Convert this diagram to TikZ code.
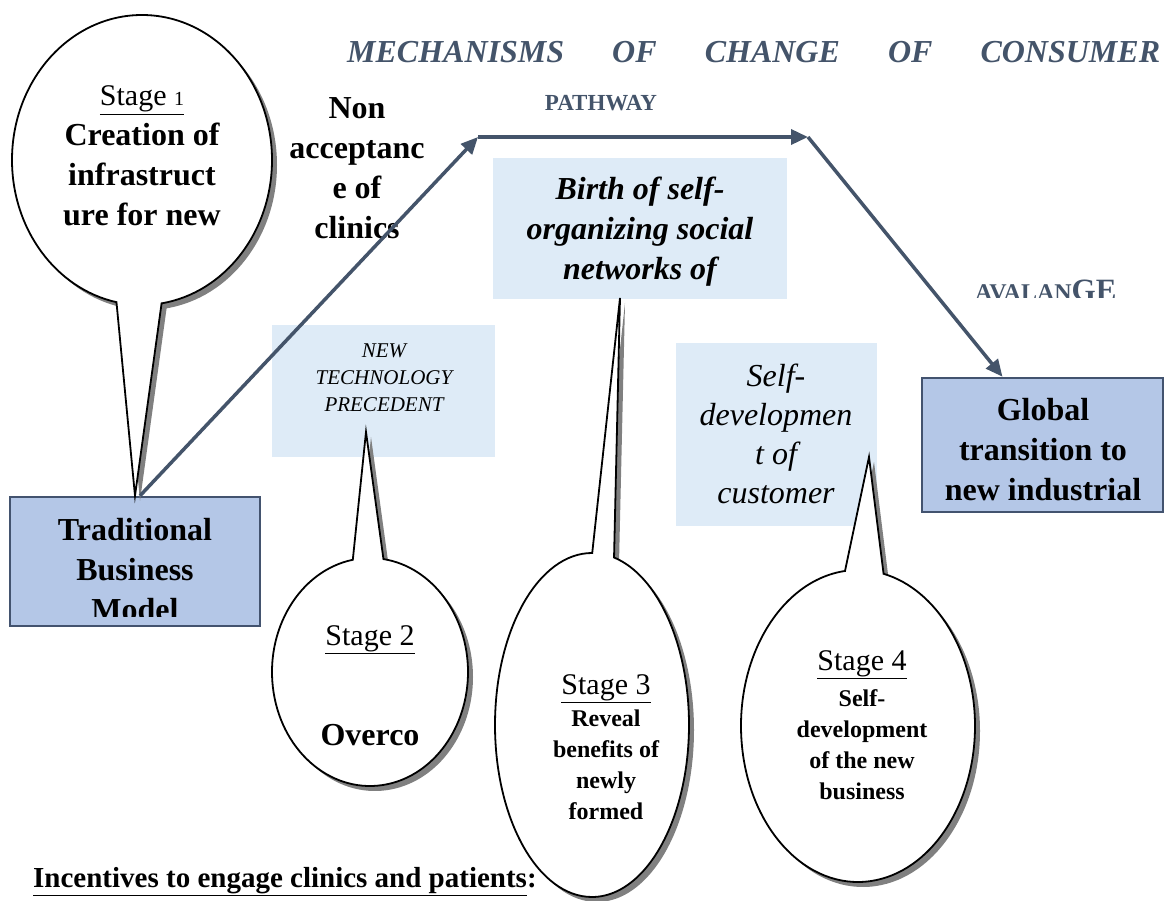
\documentclass[tikz,border=0pt]{standalone}
\usepackage{fontspec}
\setmainfont{Liberation Serif}
\usepackage{tikz}
\usetikzlibrary{shapes,shapes.callouts,arrows.meta,shadows}

\definecolor{slate}{HTML}{44546A}
\definecolor{boxblue}{HTML}{B4C7E7}
\definecolor{paleblue}{HTML}{DEEBF7}
\definecolor{boxedge}{HTML}{43536F}
\newcommand{\fs}[2]{\fontsize{#1}{#2}\selectfont}

\begin{document}
\begin{tikzpicture}[x=1pt,y=-1pt,>={Triangle[length=17pt,width=15pt]}]
	\useasboundingbox (0,0) rectangle (1165,901);
	\def \titlerow{63}
	\def \pathrow{137}
	\def \footrow{887}

	\tikzstyle{b-node}=[rectangle,draw=boxedge,line width=2.5pt,fill=boxblue,inner sep=0pt]
	\tikzstyle{p-node}=[rectangle,fill=paleblue,inner sep=0pt]
	\tikzstyle{s-node}=[ellipse callout,draw=black,line width=1.8pt,fill=white,inner sep=0pt,
		drop shadow={shadow xshift=5pt,shadow yshift=-5pt,fill=black!50,opacity=1}]
	% multi-line texts sit on the baseline of their last line
	\tikzstyle{bigtxt}=[inner sep=0pt,align=center,anchor=base,font=\fs{32}{40}\bfseries]
	\tikzstyle{stagetxt}=[inner sep=0pt,align=center,anchor=base,font=\fs{24}{31}\bfseries]
	\tikzstyle{stagehead}=[inner sep=0pt,anchor=base,font=\fs{30}{40}]
	\tikzstyle{pathway}=[->,draw=slate,line width=3.5pt]

	% title
	\node[inner sep=0pt,anchor=base west,text=slate,font=\fs{32}{40}\bfseries\itshape] (title) at (347,\titlerow)
		{\makebox[813pt]{MECHANISMS\hfill OF\hfill CHANGE\hfill OF\hfill CONSUMER}};
	\node[inner sep=0pt,anchor=base,text=slate,font=\fs{23}{28}\bfseries] (pathway) at (601,111) {PATHWAY};

	% boxes
	\node[b-node,minimum width=250pt,minimum height=129pt] (trad) at (135,561.5) {};
	\node[b-node,minimum width=241pt,minimum height=134pt] (glob) at (1042.5,445) {};
	\node[p-node,minimum width=294pt,minimum height=141pt] (birth) at (640,228.5) {};
	\node[p-node,minimum width=223pt,minimum height=132pt] (tech) at (383.5,391) {};
	\node[p-node,minimum width=201pt,minimum height=183pt] (selfdev) at (776.5,434.5) {};

	% pointer ends of the stages
	\coordinate (tip2) at (366,432);
	\coordinate (tip3) at (620,298);
	\coordinate (tip4) at (869,457);

	% stages
	\node[s-node,minimum width=260pt,minimum height=290pt,callout pointer arc=20,
		callout absolute pointer={(trad.north)}] (s1) at (142,160) {};
	\node[s-node,minimum width=196pt,minimum height=228pt,callout pointer arc=18,
		callout absolute pointer={(tip2)}] (s2) at (370,672) {};
	\node[s-node,minimum width=194pt,minimum height=344pt,callout pointer arc=13,
		callout absolute pointer={(tip3)}] (s3) at (592,725) {};
	\node[s-node,minimum width=234pt,minimum height=312pt,callout pointer arc=19,
		callout absolute pointer={(tip4)}] (s4) at (858,726) {};

	% texts
	\node[bigtxt] (s1-txt) at (142,226) {{\fs{30}{40}\mdseries\underline{Stage {\fs{20}{40}1}}}\\Creation of\\infrastruct\\ure for new};
	\node[bigtxt] (nonacc) at (357,239) {Non\\acceptanc\\e of\\clinics};
	\node[bigtxt,font=\fs{32}{40}\bfseries\itshape] (birth-txt) at (640,280) {Birth of self-\\organizing social\\networks of};
	\node[inner sep=0pt,align=center,anchor=base,font=\fs{21}{27}\itshape] (tech-txt) at (384,411) {NEW\\TECHNOLOGY\\PRECEDENT};
	\node[inner sep=0pt,align=center,anchor=base,font=\fs{32}{39}\itshape] (selfdev-txt) at (776,503) {Self-\\developmen\\t of\\customer};
	\begin{scope}
		\clip ([xshift=2pt]trad.north west) rectangle ([yshift=11pt]trad.south east);
		\node[bigtxt] (trad-txt) at (135,620) {Traditional\\Business\\Model};
	\end{scope}
	\node[bigtxt] (glob-txt) at (1043,500) {Global\\transition to\\new industrial};

	\node[stagehead] (s2-head) at (370,645) {\underline{Stage 2}};
	\node[bigtxt] (s2-txt) at (370,745) {Overco};
	\node[stagehead] (s3-head) at (606,694) {\underline{Stage 3}};
	\node[stagetxt] (s3-txt) at (606,819) {Reveal\\benefits of\\newly\\formed};
	\node[stagehead] (s4-head) at (862,670) {\underline{Stage 4}};
	\node[stagetxt] (s4-txt) at (862,799) {Self-\\development\\of the new\\business};

	\begin{scope}
		\clip (960,270) rectangle (1140,298);
		\node[inner sep=0pt,anchor=base west,text=slate,font=\bfseries] (avalange) at (975,301)
			{{\fs{24}{28}AVALAN}{\fs{31}{28}GE}};
	\end{scope}

	\node[inner sep=0pt,anchor=base west,font=\fs{29}{35}\bfseries] (incent) at (33,\footrow)
		{\underline{Incentives to engage clinics and patients}:};

	% pathway arrows
	\coordinate (bendL) at (478,\pathrow);
	\coordinate (bendR) at (808,\pathrow);
	\draw[pathway] ([xshift=5pt]trad.north) -- (bendL);
	\draw[pathway] (bendL) -- (bendR);
	\draw[pathway] (bendR) -- ([xshift=-40pt]glob.north);
\end{tikzpicture}
\end{document}
